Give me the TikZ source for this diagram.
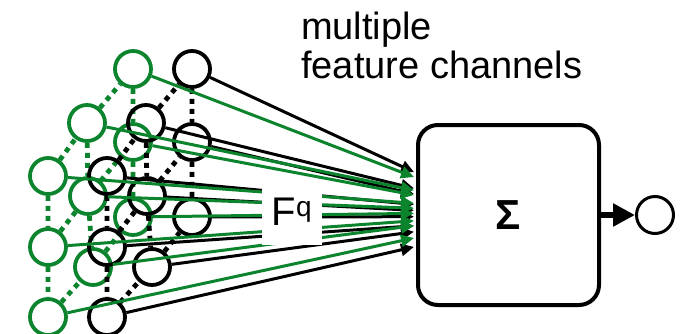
\documentclass[tikz,border=0pt]{standalone}
\usepackage{fontspec}
\setmainfont{Liberation Sans}
\definecolor{gru}{RGB}{12,132,46}
\usetikzlibrary{calc,arrows.meta}
% one layer of neurons: #1 colour, #2 name prefix, #3 x offset
\newcommand{\Lage}[3][]{%
\begin{scope}[xshift=#3]
	\node[neuron,#1] (#2A1) at (48,176) {};
	\node[neuron,#1] (#2A2) at (48,247) {};
	\node[neuron,#1] (#2A3) at (48,317) {};
	\node[neuron,#1] (#2B1) at (87,123) {};
	\node[neuron,#1] (#2B2) at (88,196) {};
	\node[neuron,#1] (#2B3) at (93,267) {};
	\node[neuron,#1] (#2C1) at (133,69) {};
	\node[neuron,#1] (#2C2) at (133,142) {};
	\node[neuron,#1] (#2C3) at (133,217) {};
\end{scope}
\draw[gitter,#1] (#2A1) -- (#2A2) -- (#2A3) (#2B1) -- (#2B2) -- (#2B3) (#2C1) -- (#2C2) -- (#2C3)
	(#2A1) -- (#2B1) -- (#2C1) (#2A2) -- (#2B2) -- (#2C2) (#2A3) -- (#2B3) -- (#2C3);}

\begin{document}
\begin{tikzpicture}[x=1pt,y=-1pt]
	\tikzstyle{neuron}=[circle,draw,line width=3.8pt,minimum size=36pt,inner sep=0pt];
	\tikzstyle{gitter}=[line width=4.8pt,dash pattern=on 5pt off 5pt];
	\tikzstyle{pfeil}=[line width=3pt,-{Triangle[length=13pt,width=12pt]}];
	\tikzstyle{kasten}=[draw,line width=4pt,rounded corners=20pt,minimum width=181pt,minimum height=180pt];
	\tikzstyle{schrift}=[font=\fontsize{38}{40}\selectfont,inner sep=0pt];
%<--------------------------------------------------------------------------->%
	\useasboundingbox (0,0) rectangle (680,333);

	\node[kasten,font=\fontsize{42}{42}\selectfont\bfseries] (summe) at (508.5,215) {Σ};
	\node[neuron,line width=3pt,minimum size=37pt] (aus) at (655,215) {};

	%% Layers
	\Lage[gru]{g}{0pt}
	\Lage{s}{59pt}

	%% Lines into the sum
	\foreach \n/\d in {A1/-10.6,A2/10.8,A3/31.9,B1/-26.6,B2/-4.6,B3/16.8,C1/-42.9,C2/-20.9,C3/1.7}{
		\coordinate (s\n e) at ($(summe.west)+(-2,\d)$);
		\draw[pfeil] (s\n) -- (s\n e);}
	\foreach \n/\d in {A1/-11.7,A2/5.8,A3/23,B1/-24.7,B2/-6.8,B3/10.7,C1/-38,C2/-20,C3/-1.6}{
		\coordinate (g\n e) at ($(summe.west)+(-2,\d)$);
		\draw[pfeil,gru] (g\n) -- (g\n e);}

	%% Output
	\draw[line width=6pt,-{Triangle[length=22pt,width=22pt]}] (summe) -- (aus);

	%% Labels
	\node[schrift,font=\fontsize{40}{40}\selectfont,fill=white,minimum width=60pt,minimum height=65pt] (fq) at (292,212) {F\textsuperscript{q}};
	\node[schrift,anchor=base west] (kanal1) at (301,39) {multiple};
	\node[schrift,anchor=base west] (kanal2) at (301,78) {feature channels};
\end{tikzpicture}
\end{document}
